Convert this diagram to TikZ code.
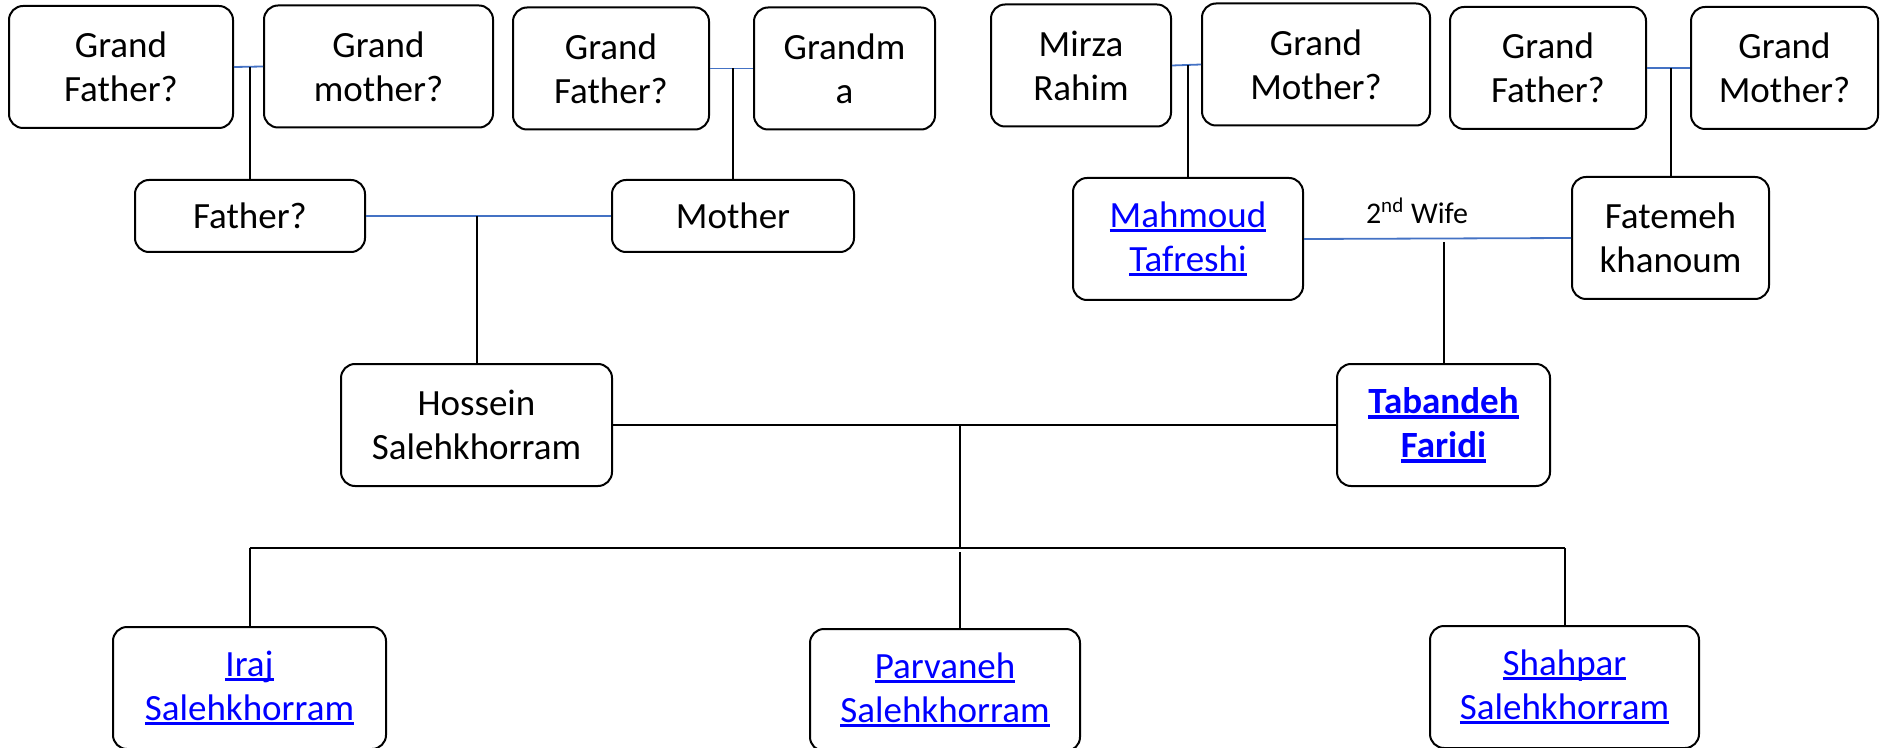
\documentclass[tikz,border=0pt]{standalone}
\usepackage{fontspec}
\setmainfont{Carlito}
\usetikzlibrary{positioning, calc}
\definecolor{linkblue}{RGB}{0,0,255}
\definecolor{spouseblue}{RGB}{68,114,196}
\newcommand{\linktext}[1]{\textcolor{linkblue}{\setbox0\hbox{#1}\rlap{\rule[-0.14em]{\wd0}{0.1em}}\box0}}
\tikzset{
  personbox/.style={
    draw,
    rounded corners = 7pt,
    line width = 1pt,
    minimum height = 61pt,
    inner sep = 0,
    align = center,
    font = \fontsize{18.5}{22}\selectfont
  },
  flatbox/.style={
    personbox,
    minimum height = 36pt
  },
  spouseline/.style={
    color = spouseblue,
    line width = 0.9pt
  },
  childline/.style={
    line width = 1pt
  },
  coupleline/.style={
    line width = 1.1pt
  },
  wifelabel/.style={
    font = \fontsize{15}{17}\selectfont
  }
}
\begin{document}
\begin{tikzpicture}[x=0.5pt, y=-0.5pt]
    \useasboundingbox (0,0) rectangle (1882,748);
    \coordinate (gfapos) at (121,67);
    \coordinate (gmapos) at (378.5,66.5);
    \coordinate (gfbpos) at (611,68.5);
    \coordinate (gmbpos) at (844.5,68.5);
    \coordinate (mirzapos) at (1081,65.5);
    \coordinate (gmcpos) at (1316,64.5);
    \coordinate (gfdpos) at (1548,68);
    \coordinate (gmdpos) at (1784.5,68);
    \coordinate (fatherpos) at (250,216);
    \coordinate (motherpos) at (733,216);
    \coordinate (mahmoudpos) at (1188,239);
    \coordinate (fatemehpos) at (1670.5,238);
    \coordinate (hosseinpos) at (476.5,425);
    \coordinate (tabandehpos) at (1443.5,425);
    \coordinate (irajpos) at (249.5,688);
    \coordinate (parvanehpos) at (945,690);
    \coordinate (shahparpos) at (1564.5,687);
    \coordinate (wifepos) at (1417,211);
    \coordinate (famjoint) at (960,425);
    \coordinate (kidsbar) at (960,548);
    \node (gfa) at (gfapos)[personbox, minimum width = 112pt]{Grand\\Father?};
    \node (gma) at (gmapos)[personbox, minimum width = 114.5pt]{Grand\\mother?};
    \node (gfb) at (gfbpos)[personbox, minimum width = 98pt]{Grand\\Father?};
    \node (gmb) at (gmbpos)[personbox, minimum width = 90.5pt]{Grandm\\a};
    \node (mirza) at (mirzapos)[personbox, minimum width = 90pt]{Mirza\\Rahim};
    \node (gmc) at (gmcpos)[personbox, minimum width = 114pt]{Grand\\Mother?};
    \node (gfd) at (gfdpos)[personbox, minimum width = 98pt]{Grand\\Father?};
    \node (gmd) at (gmdpos)[personbox, minimum width = 93.5pt]{Grand\\Mother?};
    \node (father) at (fatherpos)[flatbox, minimum width = 115pt]{Father?};
    \node (mother) at (motherpos)[flatbox, minimum width = 121pt]{Mother};
    \node (mahmoud) at (mahmoudpos)[personbox, minimum width = 115pt]{\linktext{Mahmoud}\\\linktext{Tafreshi}};
    \node (fatemeh) at (fatemehpos)[personbox, minimum width = 98.5pt]{Fatemeh\\khanoum};
    \node (hossein) at (hosseinpos)[personbox, minimum width = 135.5pt]{Hossein\\Salehkhorram};
    \node (tabandeh) at (tabandehpos)[personbox, minimum width = 106.5pt]{\linktext{\textbf{Tabandeh}}\\\linktext{\textbf{Faridi}}};
    \node (iraj) at (irajpos)[personbox, minimum width = 136.5pt]{\linktext{Iraj}\\\linktext{Salehkhorram}};
    \node (parvaneh) at (parvanehpos)[personbox, minimum width = 135pt]{\linktext{Parvaneh}\\\linktext{Salehkhorram}};
    \node (shahpar) at (shahparpos)[personbox, minimum width = 134.5pt]{\linktext{Shahpar}\\\linktext{Salehkhorram}};
    \node (wife) at (wifepos)[wifelabel]{2\textsuperscript{nd} Wife};
    \draw[spouseline] (gfa.east) -- (gma.west);
    \draw[childline] (father.north |- gfa.east) -- (father.north);
    \draw[spouseline] (gfb.east) -- (gmb.west);
    \draw[childline] (mother.north |- gfb.east) -- (mother.north);
    \draw[spouseline] (mirza.east) -- (gmc.west);
    \draw[childline] (mahmoud.north |- mirza.east) -- (mahmoud.north);
    \draw[spouseline] (gfd.east) -- (gmd.west);
    \draw[childline] (fatemeh.north |- gfd.east) -- (fatemeh.north);
    \draw[spouseline] (father.east) -- (mother.west);
    \draw[childline] (hossein.north |- father.east) -- (hossein.north);
    \draw[spouseline] (mahmoud.east) -- (fatemeh.west);
    \draw[childline] ($(tabandeh.north |- mahmoud.east)+(0,3)$) -- (tabandeh.north);
    \draw[coupleline] (hossein.east) -- (tabandeh.west);
    \draw[childline] (famjoint) -- (kidsbar);
    \draw[coupleline] (iraj.north |- kidsbar) -- (shahpar.north |- kidsbar);
    \draw[childline] (iraj.north |- kidsbar) -- (iraj.north);
    \draw[childline] ($(kidsbar)+(0,4)$) -- (parvaneh.north -| kidsbar);
    \draw[childline] (shahpar.north |- kidsbar) -- (shahpar.north);
\end{tikzpicture}
\end{document}
